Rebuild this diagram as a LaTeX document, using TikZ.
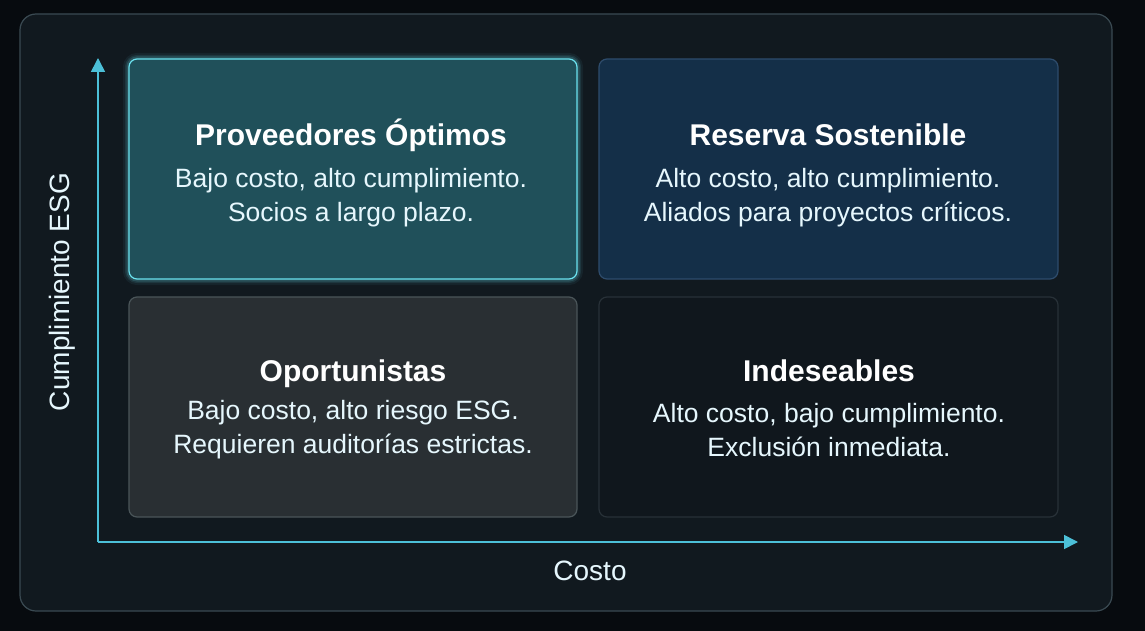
\documentclass[tikz,border=0pt]{standalone}
\usepackage{fontspec}
\setmainfont{Liberation Sans}
\usetikzlibrary{arrows.meta}
\begin{document}
\begin{tikzpicture}[x=1pt,y=-1pt,
  title/.style={text=white,font=\fontsize{30}{34}\selectfont\bfseries,anchor=base},
  body/.style={text=white!90!cyan,font=\fontsize{26.5}{34}\selectfont,align=center,anchor=center},
  quad/.style={rounded corners=8pt,line width=1.2pt},
  axis/.style={draw=axiscol,line width=1.6pt,-{Triangle[length=14pt,width=14pt]}}
]
\definecolor{bg}{HTML}{070B0F}
\definecolor{frame}{HTML}{11191F}
\definecolor{framedraw}{HTML}{3A4A52}
\definecolor{axiscol}{HTML}{4CC0D8}
\definecolor{qa}{HTML}{20505A}
\definecolor{qadraw}{HTML}{6BE3F0}
\definecolor{qb}{HTML}{142F48}
\definecolor{qbdraw}{HTML}{2E4C6C}
\definecolor{qc}{HTML}{292F33}
\definecolor{qcdraw}{HTML}{4A5559}
\definecolor{qd}{HTML}{10171D}
\definecolor{qddraw}{HTML}{283138}
\useasboundingbox (0,0) rectangle (1145,631);
\fill[bg] (0,0) rectangle (1145,631);
\fill[frame,draw=framedraw,line width=1.2pt,rounded corners=16pt] (20,14) rectangle (1112,611);
% glow for top-left
\foreach \w/\o in {12/0.06,8/0.1,5/0.16}
  \draw[qadraw,opacity=\o,line width=\w pt,rounded corners=8pt] (129,59) rectangle (577,279);
\node[quad,fill=qa,draw=qadraw,minimum width=448pt,minimum height=220pt,inner sep=0pt] (qA) at (353,169) {};
\node[quad,fill=qb,draw=qbdraw,minimum width=459pt,minimum height=220pt,inner sep=0pt] (qB) at (828.5,169) {};
\node[quad,fill=qc,draw=qcdraw,minimum width=448pt,minimum height=220pt,inner sep=0pt] (qC) at (353,407) {};
\node[quad,fill=qd,draw=qddraw,minimum width=459pt,minimum height=220pt,inner sep=0pt] (qD) at (828.5,407) {};
% texts
\node[title] (tA) at (351,146) {Proveedores Óptimos};
\node[body] (bA) at (351,198) {Bajo costo, alto cumplimiento.\\Socios a largo plazo.};
\node[title] (tB) at (828,146) {Reserva Sostenible};
\node[body] (bB) at (828,198) {Alto costo, alto cumplimiento.\\Aliados para proyectos críticos.};
\node[title] (tC) at (353,381) {Oportunistas};
\node[body] (bC) at (353,430) {Bajo costo, alto riesgo ESG.\\Requieren auditorías estrictas.};
\node[title] (tD) at (829,381) {Indeseables};
\node[body] (bD) at (829,430) {Alto costo, bajo cumplimiento.\\Exclusión inmediata.};
% axes
\coordinate (O) at (98,542);
\coordinate (Ytop) at (98,58);
\coordinate (Xend) at (1078,542);
\draw[axis] (O) -- (Ytop);
\draw[axis] (O) -- (Xend);
\node[text=white!90!cyan,font=\fontsize{28}{30}\selectfont,rotate=90] (ylab) at (62,292) {Cumplimiento ESG};
\node[text=white!90!cyan,font=\fontsize{28}{30}\selectfont] (xlab) at (590,571) {Costo};
\end{tikzpicture}
\end{document}
